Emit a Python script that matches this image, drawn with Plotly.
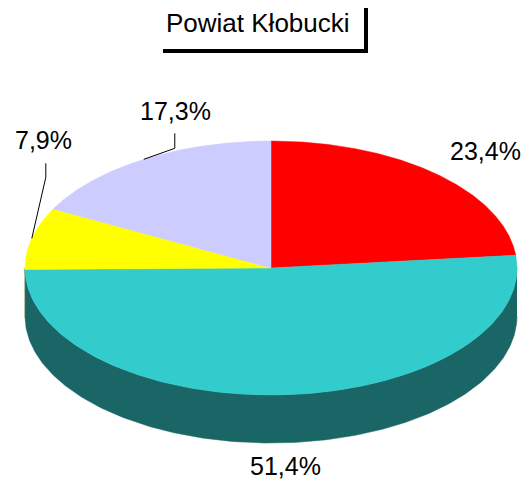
import numpy as np
import plotly.graph_objects as go

# ---- data ----
categories = ["A", "B", "C", "D"]
shares = [23.4, 51.4, 7.9, 17.3]
labels = ["23,4%", "51,4%", "7,9%", "17,3%"]
colors = ["#FF0000", "#33CCCC", "#FFFF00", "#CCCCFF"]
side_colors = ["#800000", "#1A6666", "#808000", "#66667F"]
title_text = "Powiat Kłobucki"

# ---- geometry (pixel-like axes; page has an 8px body margin) ----
W, H = 531, 479
OFF = 8
cx, cy, a, b, depth = 271, 268, 246, 127, 48

def pt(t_deg, dy=0.0):
    t = np.radians(t_deg)
    return cx + a * np.sin(t), cy - b * np.cos(t) + dy

fig = go.Figure()

total = sum(shares)
angles = []
start = 0.0
for s in shares:
    end = start + 360.0 * s / total
    angles.append((start, end))
    start = end

# sides (front half: 90..270)
for (s0, s1), sc in zip(angles, side_colors):
    lo, hi = max(s0, 90.0), min(s1, 270.0)
    if hi <= lo:
        continue
    ts = np.linspace(lo, hi, 200)
    xt, yt = pt(ts)
    xb, yb = pt(ts[::-1], depth)
    fig.add_trace(go.Scatter(x=np.concatenate([xt, xb]), y=np.concatenate([yt, yb]),
                             fill="toself", fillcolor=sc, mode="lines",
                             line=dict(color=sc, width=0.5), hoverinfo="skip", showlegend=False))

# top slices
for (s0, s1), c, cat in zip(angles, colors, categories):
    ts = np.linspace(s0, s1, 300)
    xs, ys = pt(ts)
    fig.add_trace(go.Scatter(x=np.concatenate([[cx], xs, [cx]]), y=np.concatenate([[cy], ys, [cy]]),
                             fill="toself", fillcolor=c, mode="lines", name=cat,
                             line=dict(color=c, width=0.5), hoverinfo="skip", showlegend=False))

# labels (offsets relative to slice mid point on the rim)
label_offsets = [(50, -23, None), (1, 71, None), (12, -98, (14, -61, 14, -75)), (32, -48, (31, -11, 31, -26))]
font = dict(family="Liberation Sans, Arial", size=25, color="black")
for (s0, s1), lab, off in zip(angles, labels, label_offsets):
    mid = (s0 + s1) / 2
    mx, my = pt(mid)
    dx, dy, leader = off
    if leader is not None:
        ex, ey, fx, fy = leader
        fig.add_trace(go.Scatter(x=[mx, mx + ex, mx + fx], y=[my, my + ey, my + fy], mode="lines",
                                 line=dict(color="black", width=1), hoverinfo="skip", showlegend=False))
    fig.add_annotation(x=mx + dx, y=my + dy, text=lab, showarrow=False, font=font,
                       xanchor="center", yanchor="middle")

# title with shadow box
fig.add_annotation(x=258, y=23, text=title_text, showarrow=False,
                   font=dict(family="Liberation Sans, Arial", size=26, color="black"),
                   xanchor="center", yanchor="middle")
fig.add_shape(type="line", x0=366, x1=366, y0=7, y1=53, line=dict(color="black", width=4))
fig.add_shape(type="line", x0=163, x1=368, y0=51, y1=51, line=dict(color="black", width=4))

fig.update_layout(width=W, height=H, margin=dict(l=0, r=0, t=0, b=0),
                  paper_bgcolor="white", plot_bgcolor="white",
                  xaxis=dict(range=[OFF, W + OFF], visible=False, fixedrange=True),
                  yaxis=dict(range=[H + OFF, OFF], visible=False, fixedrange=True))
fig.write_html("out.html")
